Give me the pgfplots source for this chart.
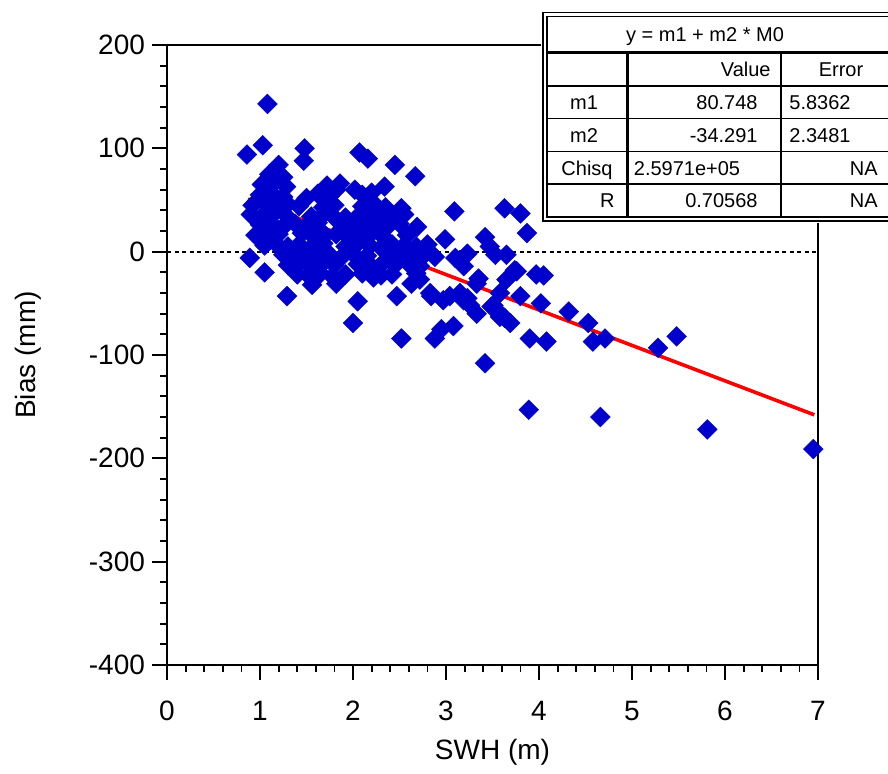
\documentclass[border=0pt]{standalone}
\usepackage{pgfplots}
\pgfplotsset{compat=1.18}
\usepackage{fontspec}
\setmainfont{Liberation Sans}
\definecolor{markblue}{RGB}{0,0,204}
\pgfplotstableread{
x y
1.08 143
0.86 94
1.03 103
1.48 100
1.47 88
2.07 96
2.16 90
2.45 84
2.67 73
1.86 66
2.02 60
2.34 63
2.52 42
2.69 24
3.09 39
3.63 42
3.80 37
3.87 18
2.99 12
3.42 14
3.47 5
3.65 -3
3.53 -3
3.10 -6
3.23 -2
2.88 -5
3.76 -19
3.35 -26
3.65 -27
3.19 -14
3.97 -22
3.15 -8
2.58 -5
2.72 -27
2.84 -43
2.97 -47
3.15 -40
3.23 -45
3.33 -60
3.49 -53
3.69 -69
3.63 -64
3.80 -43
4.02 -50
2.88 -84
3.08 -72
2.95 -75
3.90 -84
4.08 -87
3.42 -108
3.19 -47
3.26 -52
3.04 -43
2.83 -40
3.56 -58
3.33 -31
3.58 -40
4.05 -23
4.32 -58
4.53 -69
4.58 -87
4.71 -84
5.28 -93
5.48 -82
3.89 -153
4.66 -160
5.81 -172
6.95 -191
3.51 -52
3.58 -63
3.74 -18
0.89 -6
1.05 -20
1.29 -43
2.05 -48
2.00 -69
2.52 -84
2.47 -43
2.63 -31
1.82 -31
2.22 -25
1.56 -32
1.20 84
1.10 75
1.25 72
1.02 65
1.15 67
1.28 63
1.72 64
1.82 60
1.00 55
1.12 57
1.25 53
1.50 52
1.62 56
1.75 54
2.10 55
2.20 57
0.92 45
1.05 47
1.18 43
1.30 46
1.42 44
1.68 43
1.80 45
2.10 44
2.22 47
2.35 43
0.90 36
1.02 34
1.15 37
1.28 35
1.55 34
1.68 36
1.80 33
1.92 33
2.05 34
2.18 37
2.30 35
2.42 33
2.55 36
1.00 26
1.12 28
1.25 24
1.38 27
1.50 25
1.62 28
1.88 26
2.00 28
2.12 24
2.25 27
2.38 25
2.50 27
0.95 16
1.08 14
1.20 17
1.45 18
1.58 14
1.70 16
1.82 17
1.95 14
2.08 16
2.20 18
2.32 15
2.58 16
1.05 6
1.17 8
1.30 5
1.42 7
1.55 4
1.68 8
1.92 5
2.05 8
2.18 6
2.30 4
2.42 7
2.55 6
2.68 5
2.80 7
1.25 -3
1.38 -2
1.50 -4
1.62 -1
1.75 -3
1.88 -5
2.00 -2
2.15 -4
2.40 -3
2.52 -2
2.65 -4
2.78 -2
1.30 -13
1.42 -12
1.55 -14
1.68 -11
1.80 -13
2.05 -12
2.20 -14
2.32 -11
2.45 -13
2.60 -12
2.72 -14
1.40 -22
1.52 -23
1.65 -21
1.78 -24
1.92 -22
2.10 -21
2.30 -23
2.42 -22
2.68 -21
}\scatterdata
\begin{document}
\begin{tikzpicture}
\path[use as bounding box] (0,0) rectangle (444pt,-386.5pt);
\begin{axis}[
 at={(83.5pt,-332.5pt)}, anchor=south west,
 width=325.5pt, height=310pt, scale only axis,
 xmin=0, xmax=7, ymin=-400, ymax=200,
 xtick={0,...,7}, ytick={-400,-300,...,200},
 minor x tick num=4, minor y tick num=4,
 tick align=outside, xtick pos=bottom, ytick pos=left,
 major tick length=7.5pt, minor tick length=3.5pt,
 axis line style={line width=0.9pt},
 every tick/.style={black, line width=0.9pt},
 /pgf/number format/assume math mode=true,
 tick label style={font=\fontsize{14}{16}\selectfont},
 xticklabel style={yshift=-7pt},
 label style={font=\fontsize{14}{16}\selectfont},
 xlabel={SWH (m)}, ylabel={Bias (mm)},
 xlabel style={at={(axis description cs:0.5,-0.1403)}, anchor=center},
 ylabel style={at={(axis description cs:-0.2135,0.5)}, anchor=center},
 clip=false,
]
\addplot[red, line width=1.8pt] coordinates {(0.87,50.9) (6.96,-157.9)};
\addplot[only marks, mark=square*, mark size=3.5pt,
  mark options={rotate=45, fill=markblue, draw=markblue, line width=0.2pt}]
  table[x=x,y=y] {\scatterdata};
\addplot[black, line width=1pt, dash pattern=on 2pt off 1.75pt] coordinates {(0,0) (7,0)};
\end{axis}
\begin{scope}[x=0.5pt,y=-0.5pt]
\fill[white] (541,11) rectangle (900,223);
\draw[line width=0.6pt] (543,12.5) rectangle (905,221);
\draw[line width=0.6pt] (547,16.5) rectangle (905,217);
\draw[line width=1.5pt] (547,52.5) -- (905,52.5);
\draw[line width=1.5pt] (627.5,52.5) -- (627.5,217);
\draw[line width=0.75pt] (781,52.5) -- (781,217);
\foreach \yy in {85.8,118.6,151.4,184.2} {\draw[line width=0.75pt] (547,\yy) -- (905,\yy);}
\begin{scope}[every node/.style={font=\fontsize{10}{12}\selectfont, inner sep=0pt}]
\node[anchor=base] at (705,41) {y = m1 + m2 * M0};
\node[anchor=base east] at (771,76.5) {Value};
\node[anchor=base] at (841,76.5) {Error};
\node[anchor=base] at (584,109) {m1};
\node[anchor=base east] at (758,109) {80.748};
\node[anchor=base west] at (789,109) {5.8362};
\node[anchor=base] at (584,142) {m2};
\node[anchor=base east] at (758,142) {-34.291};
\node[anchor=base west] at (789,142) {2.3481};
\node[anchor=base east] at (613,175) {Chisq};
\node[anchor=base] at (687,175) {2.5971e+05};
\node[anchor=base east] at (878,175) {NA};
\node[anchor=base east] at (615,207.5) {R};
\node[anchor=base east] at (758,207.5) {0.70568};
\node[anchor=base east] at (878,207.5) {NA};
\end{scope}
\end{scope}
\end{tikzpicture}
\end{document}
